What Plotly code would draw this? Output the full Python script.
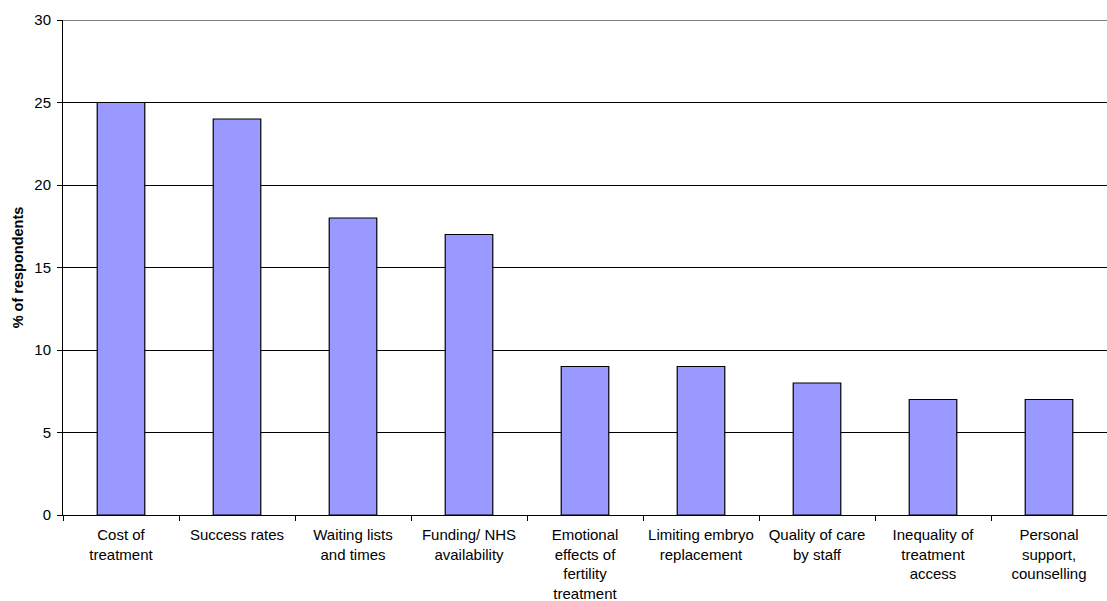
import plotly.graph_objects as go

categories = ["Cost of<br>treatment", "Success rates", "Waiting lists<br>and times",
              "Funding/ NHS<br>availability", "Emotional<br>effects of<br>fertility<br>treatment",
              "Limiting embryo<br>replacement", "Quality of care<br>by staff",
              "Inequality of<br>treatment<br>access", "Personal<br>support,<br>counselling"]
values = [25, 24, 18, 17, 9, 9, 8, 7, 7]
y_ticks = [0, 5, 10, 15, 20, 25, 30]
y_max = 30

fig = go.Figure(go.Bar(
    x=categories, y=values,
    marker=dict(color="#9999FF", line=dict(color="#000000", width=1.2)),
    width=0.41,
))

fig.add_shape(type="line", xref="paper", yref="y", x0=0, x1=1, y0=y_max, y1=y_max,
              line=dict(color="#808080", width=2), layer="below")

fig.update_layout(
    width=1107, height=601,
    margin=dict(l=63, r=0, t=20, b=86),
    paper_bgcolor="white", plot_bgcolor="white",
    font=dict(family="Liberation Sans, Arial, sans-serif", size=15, color="#000"),
    showlegend=False,
)
fig.update_xaxes(
    showline=True, linecolor="#000", linewidth=1,
    ticks="outside", ticklen=5, tickcolor="#000",
    showgrid=False, tickangle=0,
    tickson="boundaries",
    tickfont=dict(size=15),
    ticklabelstandoff=6,
)
fig.update_yaxes(
    range=[0, y_max], tickvals=y_ticks,
    showline=True, linecolor="#000", linewidth=1,
    ticks="outside", ticklen=5, tickcolor="#000",
    showgrid=True, gridcolor="#000", gridwidth=1,
    zeroline=False,
    title=dict(text="<b>% of respondents</b>", font=dict(size=14.5), standoff=7),
    tickfont=dict(size=15),
    ticklabelstandoff=3,
)

fig.write_html("out.html")
